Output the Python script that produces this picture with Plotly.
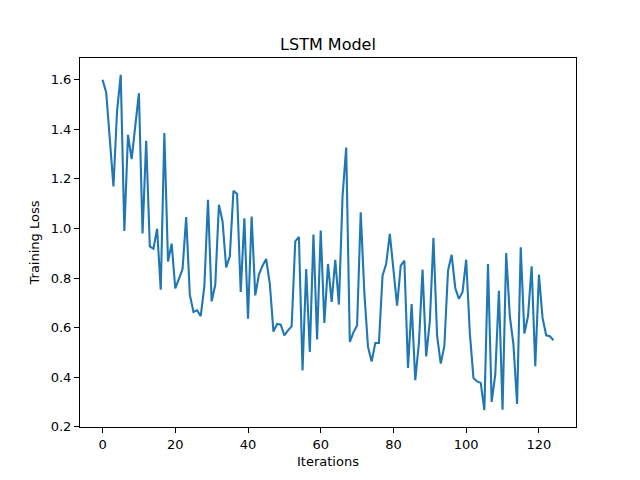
import plotly.graph_objects as go

iterations = list(range(125))
loss = [
    1.600, 1.549, 1.360, 1.170, 1.475, 1.620, 0.990, 1.378, 1.280, 1.410,
    1.546, 0.980, 1.354, 0.928, 0.918, 0.999, 0.753, 1.385, 0.867, 0.939,
    0.758, 0.797, 0.836, 1.046, 0.733, 0.663, 0.670, 0.646, 0.767, 1.116,
    0.706, 0.773, 1.096, 1.029, 0.843, 0.888, 1.152, 1.139, 0.744, 1.041,
    0.636, 1.048, 0.730, 0.814, 0.850, 0.877, 0.777, 0.584, 0.615, 0.612,
    0.569, 0.589, 0.605, 0.948, 0.966, 0.427, 0.836, 0.502, 0.976, 0.552,
    0.992, 0.619, 0.857, 0.704, 0.874, 0.693, 1.130, 1.327, 0.542, 0.581,
    0.609, 1.065, 0.740, 0.522, 0.463, 0.538, 0.538, 0.810, 0.858, 0.978,
    0.847, 0.689, 0.850, 0.870, 0.437, 0.695, 0.388, 0.538, 0.834, 0.484,
    0.625, 0.962, 0.568, 0.455, 0.525, 0.830, 0.894, 0.760, 0.716, 0.744,
    0.874, 0.579, 0.397, 0.383, 0.377, 0.267, 0.857, 0.300, 0.410, 0.749,
    0.269, 0.901, 0.646, 0.531, 0.292, 0.924, 0.576, 0.646, 0.847, 0.444,
    0.814, 0.639, 0.569, 0.565, 0.549,
]
x_ticks = [0, 20, 40, 60, 80, 100, 120]
y_ticks = [0.2, 0.4, 0.6, 0.8, 1.0, 1.2, 1.4, 1.6]

fig = go.Figure()
fig.add_trace(go.Scatter(x=iterations, y=loss, mode="lines",
                         line=dict(color="#1f77b4", width=2.1)))

axis_common = dict(showgrid=False, zeroline=False, showline=True, linecolor="black",
                   linewidth=1, mirror=True, ticks="outside", ticklen=5, tickwidth=1,
                   tickcolor="black", tickfont=dict(size=13, color="black"))

# page body has an 8px margin, so the figure is 632x472 and offset by 8px
fig.update_layout(
    width=632, height=472,
    paper_bgcolor="white", plot_bgcolor="white",
    font=dict(family="DejaVu Sans", color="black"),
    margin=dict(l=72, r=64, t=50, b=53),
    showlegend=False,
    title=dict(text="LSTM Model", x=(72 + 248) / 632, xanchor="center", y=1 - 36 / 472,
               yanchor="middle", font=dict(size=16, color="black")),
    xaxis=dict(range=[-6.2, 130.2], tickvals=x_ticks,
               title=dict(text="Iterations", font=dict(size=13), standoff=6),
               **axis_common),
    yaxis=dict(range=[0.199, 1.688], tickvals=y_ticks, tickformat=".1f",
               title=dict(text="Training Loss", font=dict(size=13), standoff=8),
               **axis_common),
)

fig.write_html("out.html")
